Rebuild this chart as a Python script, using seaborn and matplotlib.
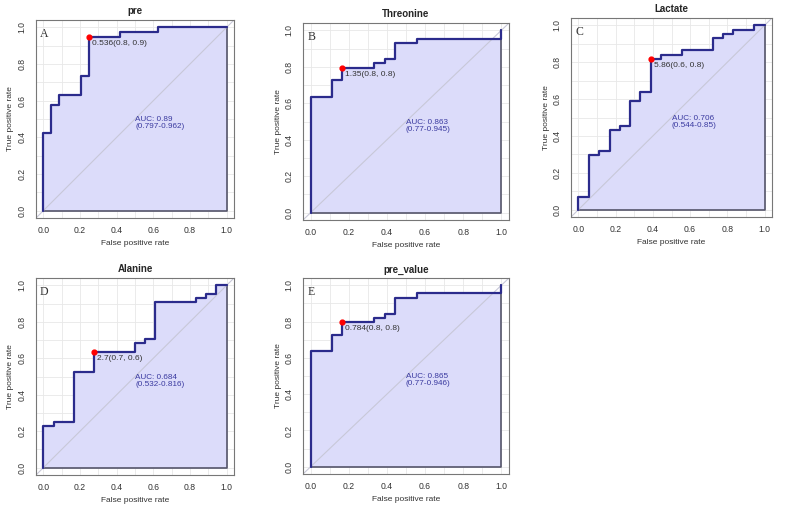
import matplotlib
matplotlib.use('Agg')
import matplotlib.pyplot as plt
import seaborn as sns
import numpy as np

# ROC knots (false positive rate, true positive rate), drawn as post steps
pre_fpr = [0, 0, 0.042, 0.083, 0.208, 0.25, 0.417, 0.625, 1.0]
pre_tpr = [0, 0.421, 0.579, 0.632, 0.737, 0.947, 0.974, 1.0, 1.0]

thr_fpr = [0, 0, 0.111, 0.167, 0.333, 0.389, 0.444, 0.556, 1.0]
thr_tpr = [0, 0.636, 0.727, 0.795, 0.818, 0.841, 0.932, 0.955, 1.0]

lac_fpr = [0, 0, 0.056, 0.111, 0.167, 0.222, 0.278, 0.333, 0.389, 0.444,
           0.556, 0.722, 0.778, 0.833, 0.944, 1.0]
lac_tpr = [0, 0.068, 0.295, 0.318, 0.432, 0.455, 0.591, 0.636, 0.818, 0.841,
           0.864, 0.932, 0.955, 0.977, 1.0, 1.0]

ala_fpr = [0, 0, 0.056, 0.167, 0.278, 0.5, 0.556, 0.611, 0.833, 0.889, 0.944, 1.0]
ala_tpr = [0, 0.227, 0.25, 0.523, 0.636, 0.682, 0.705, 0.909, 0.932, 0.955, 1.0, 1.0]

pv_fpr = [0, 0, 0.111, 0.167, 0.333, 0.389, 0.444, 0.556, 1.0]
pv_tpr = [0, 0.636, 0.727, 0.795, 0.818, 0.841, 0.932, 0.955, 1.0]

titles = ['pre', 'Threonine', 'Lactate', 'Alanine', 'pre_value']
letters = ['A', 'B', 'C', 'D', 'E']
best_x = [0.25, 0.167, 0.389, 0.278, 0.167]
best_y = [0.947, 0.795, 0.818, 0.636, 0.795]
best_txt = ['0.536(0.8, 0.9)', '1.35(0.8, 0.8)', '5.86(0.6, 0.8)', '2.7(0.7, 0.6)', '0.784(0.8, 0.8)']
auc_txt = ['AUC: 0.89\n(0.797-0.962)', 'AUC: 0.863\n(0.77-0.945)', 'AUC: 0.706\n(0.544-0.85)',
           'AUC: 0.684\n(0.532-0.816)', 'AUC: 0.865\n(0.77-0.946)']

curves = [(pre_fpr, pre_tpr), (thr_fpr, thr_tpr), (lac_fpr, lac_tpr),
          (ala_fpr, ala_tpr), (pv_fpr, pv_tpr)]

# panel boxes in pixels: left, right, top, bottom
boxes = [(36, 234, 20, 218), (303, 509, 23, 220), (571, 772, 18, 217),
         (36, 234, 278, 475), (303, 509, 278, 474)]

W, H = 785, 512
sns.set_style('white')
plt.rcParams['font.family'] = ['Liberation Sans', 'DejaVu Sans']

fig = plt.figure(figsize=(W / 100, H / 100), dpi=100)

curve_col = '#2b2b8c'
fill_col = '#dcdcfa'
frame_col = '#555555'

for i, (fpr, tpr) in enumerate(curves):
    l, r, t, b = boxes[i]
    ax = fig.add_axes([l / W, 1 - b / H, (r - l) / W, (b - t) / H])
    ax.set_xlim(-0.04, 1.04)
    ax.set_ylim(-0.04, 1.04)

    # light grid every 0.1
    for g in np.arange(0, 1.01, 0.1):
        ax.axvline(g, color='#e8e8e8', lw=0.6, zorder=0)
        ax.axhline(g, color='#e8e8e8', lw=0.6, zorder=0)

    ax.fill_between(fpr, tpr, 0, step='post', color=fill_col, lw=0, zorder=1)
    ax.plot([fpr[0], fpr[-1], fpr[-1]], [tpr[0], tpr[0], tpr[-1]],
            color='#55556a', lw=1.2, zorder=2)
    ax.plot([-0.04, 1.04], [-0.04, 1.04], color='#c8c8d8', lw=0.8, zorder=2)
    sns.lineplot(x=fpr, y=tpr, ax=ax, drawstyle='steps-post', sort=False,
                 estimator=None, color=curve_col, lw=1.6, zorder=3)

    ax.scatter([best_x[i]], [best_y[i]], color='red', s=12, zorder=4)
    ax.text(best_x[i] + 0.015, best_y[i] - 0.035, best_txt[i], fontsize=6,
            color='#333333', va='center', ha='left', zorder=5)
    ax.text(0.5, 0.515, auc_txt[i], fontsize=5.9, color='#3a3aa0',
            va='top', ha='left', linespacing=1.0, zorder=5)
    ax.text(0.005, 0.965, letters[i], fontsize=8.5, family='Liberation Serif',
            color='#333333', ha='center', va='center', zorder=5)

    ticks = [0.0, 0.2, 0.4, 0.6, 0.8, 1.0]
    ax.set_xticks(ticks)
    ax.set_yticks(ticks)
    ax.set_xticklabels(['%.1f' % v for v in ticks], fontsize=6.2, color='#333333')
    ax.set_yticklabels(['%.1f' % v for v in ticks], fontsize=6.2, color='#333333',
                       rotation=90, va='center')
    ax.tick_params(direction='out', length=3.5, width=0.6, color=frame_col)
    ax.tick_params(axis='x', pad=2.5)
    ax.tick_params(axis='y', pad=3.5)
    for s in ax.spines.values():
        s.set_color('#777777')
        s.set_linewidth(0.8)
    ax.set_xlabel('False positive rate', fontsize=6, color='#333333', labelpad=3.5)
    ax.set_ylabel('True positive rate', fontsize=6, color='#333333', labelpad=2)
    ax.set_title(titles[i], fontsize=7, fontweight='bold', pad=4)

fig.savefig('out.png', dpi=100)
